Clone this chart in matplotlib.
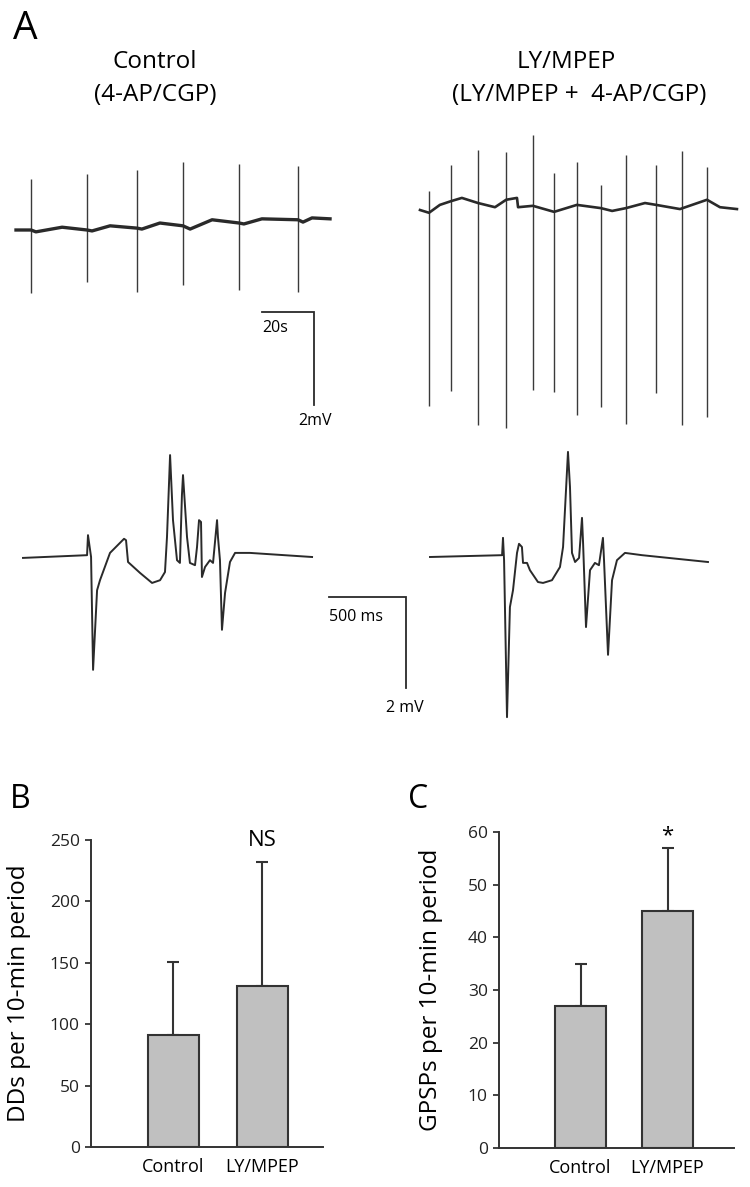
import numpy as np
import matplotlib
matplotlib.use("Agg")
import matplotlib.pyplot as plt

plt.rcParams['font.family'] = ['Open Sans', 'DejaVu Sans']

W, H = 750, 1187

# ---------------- data ----------------
# long recordings (s, mV), baseline wander
ctl_long_t = [0, 5.7, 7.5, 17.4, 26.8, 28.7, 35.5, 45.7, 47.5, 54.3, 63.0, 65.7,
              74.0, 84.2, 86.0, 92.8, 106.4, 108.3, 111.7, 118.5]
ctl_long_v = [0, 0, -0.04, 0.06, 0, -0.02, 0.09, 0.04, 0.02, 0.15, 0.09, 0.02,
              0.22, 0.15, 0.13, 0.24, 0.22, 0.17, 0.26, 0.24]
ctl_spk_t = [5.7, 26.8, 45.7, 63.0, 84.2, 106.4]
ctl_spk_top = [1.10, 1.20, 1.29, 1.46, 1.42, 1.38]
ctl_spk_bot = [-1.35, -1.12, -1.33, -1.18, -1.29, -1.33]

ly_long_t = [0, 3.4, 7.5, 11.7, 15.8, 21.9, 28.3, 32.5, 36.6, 37.0, 42.6, 50.6,
             59.2, 68.3, 72.5, 77.7, 84.9, 89.1, 98.1, 108.3, 113.2, 119.6]
ly_long_v = [0, -0.06, 0.11, 0.19, 0.26, 0.15, 0.06, 0.22, 0.26, 0.06, 0.09, -0.04,
             0.11, 0.04, -0.02, 0.04, 0.15, 0.11, 0.02, 0.22, 0.06, 0.02]
ly_spk_t = [3.4, 11.7, 21.9, 32.5, 42.6, 50.6, 59.2, 68.3, 77.7, 89.1, 98.9, 108.3]
ly_spk_top = [0.41, 0.97, 1.29, 1.25, 1.61, 0.80, 1.03, 0.54, 1.18, 0.97, 1.27, 0.92]
ly_spk_bot = [-4.22, -3.89, -4.62, -4.69, -3.87, -3.91, -4.41, -4.24, -4.60, -3.94,
              -4.62, -4.45]

# single events (ms, mV)
ctl_ev_t = [0, 416, 422, 442, 455, 481, 500, 565, 656, 669, 682, 760, 838, 890, 922,
            935, 955, 974, 1000, 1019, 1032, 1039, 1065, 1084, 1117, 1130, 1143, 1156,
            1162, 1182, 1214, 1234, 1260, 1266, 1279, 1292, 1312, 1344, 1377, 1474, 1877]
ctl_ev_v = [-0.02, 0.04, 0.48, 0, -2.48, -0.73, -0.51, 0.09, 0.40, 0.37, -0.11, -0.35,
            -0.57, -0.51, -0.33, 0.44, 2.24, 0.81, -0.07, -0.13, 1.36, 1.80, 0.44, -0.13,
            -0.18, 0.22, 0.81, 0.77, -0.44, -0.22, -0.07, -0.13, 0.81, 0.44, -0.07, -1.60,
            -0.79, -0.11, 0.09, 0.09, 0]

ly_ev_t = [0, 468, 474, 481, 500, 519, 539, 565, 578, 597, 604, 630, 649, 701, 734,
           792, 844, 864, 896, 909, 922, 942, 968, 987, 994, 1013, 1039, 1071, 1097,
           1123, 1130, 1156, 1182, 1214, 1266, 1377, 1805]
ly_ev_v = [0, 0.04, 0.42, -0.07, -3.52, -1.10, -0.73, 0.09, 0.29, 0.22, -0.13, -0.13,
           -0.29, -0.55, -0.57, -0.51, -0.22, 0.22, 2.31, 1.54, 0.09, -0.11, -0.02, 0.86,
           0.31, -1.54, -0.29, -0.13, -0.18, 0.42, -0.07, -2.15, -0.51, -0.07, 0.09,
           0.04, -0.11]

# bar charts
groups = ["Control", "LY/MPEP"]
dd_mean = [91, 131]
dd_sd = [60, 101]
gpsp_mean = [27, 45]
gpsp_sd = [8, 12]

# ---------------- layout helpers ----------------
fig = plt.figure(figsize=(W / 100, H / 100), dpi=100)
TR = '#2a2a2a'


def trace_axes(box, origin, sx, sy):
    # box in pixels (x0, y0, x1, y1), origin pixel of t=0 / v=0, scales px per unit
    x0, y0, x1, y1 = box
    ax = fig.add_axes([x0 / W, 1 - y1 / H, (x1 - x0) / W, (y1 - y0) / H])
    ax.set_xlim((x0 - origin[0]) / sx, (x1 - origin[0]) / sx)
    ax.set_ylim((origin[1] - y1) / sy, (origin[1] - y0) / sy)
    ax.axis('off')
    ax.patch.set_alpha(0)
    return ax


def scale_bar(ax, x, y, dx, dy, xlab, ylab, offx, offy, fs):
    ax.plot([x, x + dx, x + dx], [y, y, y - dy], color=TR, lw=1.3,
            solid_joinstyle='miter', clip_on=False)
    ax.text(x, y - offy, xlab, fontsize=fs, ha='left', va='center')
    ax.text(x + dx - offx, y - dy - offy, ylab, fontsize=fs, ha='left', va='center')


# ---------------- panel A: long traces ----------------
ax1 = trace_axes((0, 110, 375, 450), (16, 230), 2.65, 46.5)
ax1.vlines(ctl_spk_t, ctl_spk_bot, ctl_spk_top, color='#3a3a3a', lw=1.0)
ax1.plot(ctl_long_t, ctl_long_v, color=TR, lw=2.4)
scale_bar(ax1, 92.8, -1.76, 19.6, 2.0, "20s", "2mV", 6.0, 0.34, 11.5)

ax2 = trace_axes((375, 110, 750, 450), (420, 210), 2.65, 46.5)
ax2.vlines(ly_spk_t, ly_spk_bot, ly_spk_top, color='#3a3a3a', lw=1.0)
ax2.plot(ly_long_t, ly_long_v, color=TR, lw=1.9)

# ---------------- panel A: single events ----------------
ax3 = trace_axes((0, 430, 470, 730), (23, 557), 0.154, 45.5)
ax3.plot(ctl_ev_t, ctl_ev_v, color=TR, lw=1.4)
scale_bar(ax3, 1987, -0.88, 500, 2.0, "500 ms", "2 mV", 130, 0.44, 11.5)

ax4 = trace_axes((400, 430, 750, 730), (430, 557), 0.154, 45.5)
ax4.plot(ly_ev_t, ly_ev_v, color=TR, lw=1.4)

fig.text(13 / W, 1 - 29 / H, "A", fontsize=28, va='center', ha='left')
fig.text(155 / W, 1 - 62 / H, "Control", fontsize=17.5, ha='center', va='center')
fig.text(155 / W, 1 - 95 / H, "(4-AP/CGP)", fontsize=17.5, ha='center', va='center')
fig.text(566 / W, 1 - 62 / H, "LY/MPEP", fontsize=17.5, ha='center', va='center')
fig.text(579 / W, 1 - 95 / H, "(LY/MPEP +  4-AP/CGP)", fontsize=17.5,
         ha='center', va='center')

# ---------------- panels B and C: bars ----------------


def bar_panel(box, mean, sd, ymax, step, xlim, width, ylabel, mark, mark_y):
    x0, y0, x1, y1 = box
    ax = fig.add_axes([x0 / W, 1 - y1 / H, (x1 - x0) / W, (y1 - y0) / H])
    pos = np.arange(len(groups))
    ax.errorbar(pos, mean, yerr=[np.zeros(len(sd)), sd], fmt='none', ecolor='#333333',
                elinewidth=1.5, capsize=4.5, capthick=1.5, zorder=1)
    ax.bar(pos, mean, width=width, color='#c0c0c0', edgecolor='#333333', lw=1.5,
           zorder=2)
    ax.set_xlim(*xlim)
    ax.set_ylim(0, ymax)
    ax.set_yticks(np.arange(0, ymax + 1, step))
    ax.set_xticks(pos)
    ax.set_xticklabels(groups, fontsize=13)
    ax.tick_params(axis='x', length=0, pad=8)
    ax.tick_params(axis='y', length=4.5, width=1.2, labelsize=12.5, colors='#222222')
    for s in ['top', 'right']:
        ax.spines[s].set_visible(False)
    for s in ['left', 'bottom']:
        ax.spines[s].set_linewidth(1.4)
        ax.spines[s].set_color('#333333')
        ax.spines[s].set_clip_on(False)
    ax.set_ylabel(ylabel, fontsize=17.5)
    ax.text(1, mark_y, mark, fontsize=16, ha='center', va='center')
    return ax


axB = bar_panel((91, 840, 323, 1147), dd_mean, dd_sd, 250, 50,
                (-0.932, 1.689), 0.576, "DDs per 10-min period", "NS", 250)
axB.yaxis.set_label_coords(-0.26, 0.5)
axC = bar_panel((499, 832, 734, 1148), gpsp_mean, gpsp_sd, 60, 10,
                (-0.937, 1.764), 0.586, "GPSPs per 10-min period", "*", 59.3)
axC.yaxis.set_label_coords(-0.24, 0.5)

fig.text(10 / W, 1 - 800 / H, "B", fontsize=23, va='center', ha='left')
fig.text(408 / W, 1 - 800 / H, "C", fontsize=23, va='center', ha='left')

fig.savefig("out.png", dpi=100)
